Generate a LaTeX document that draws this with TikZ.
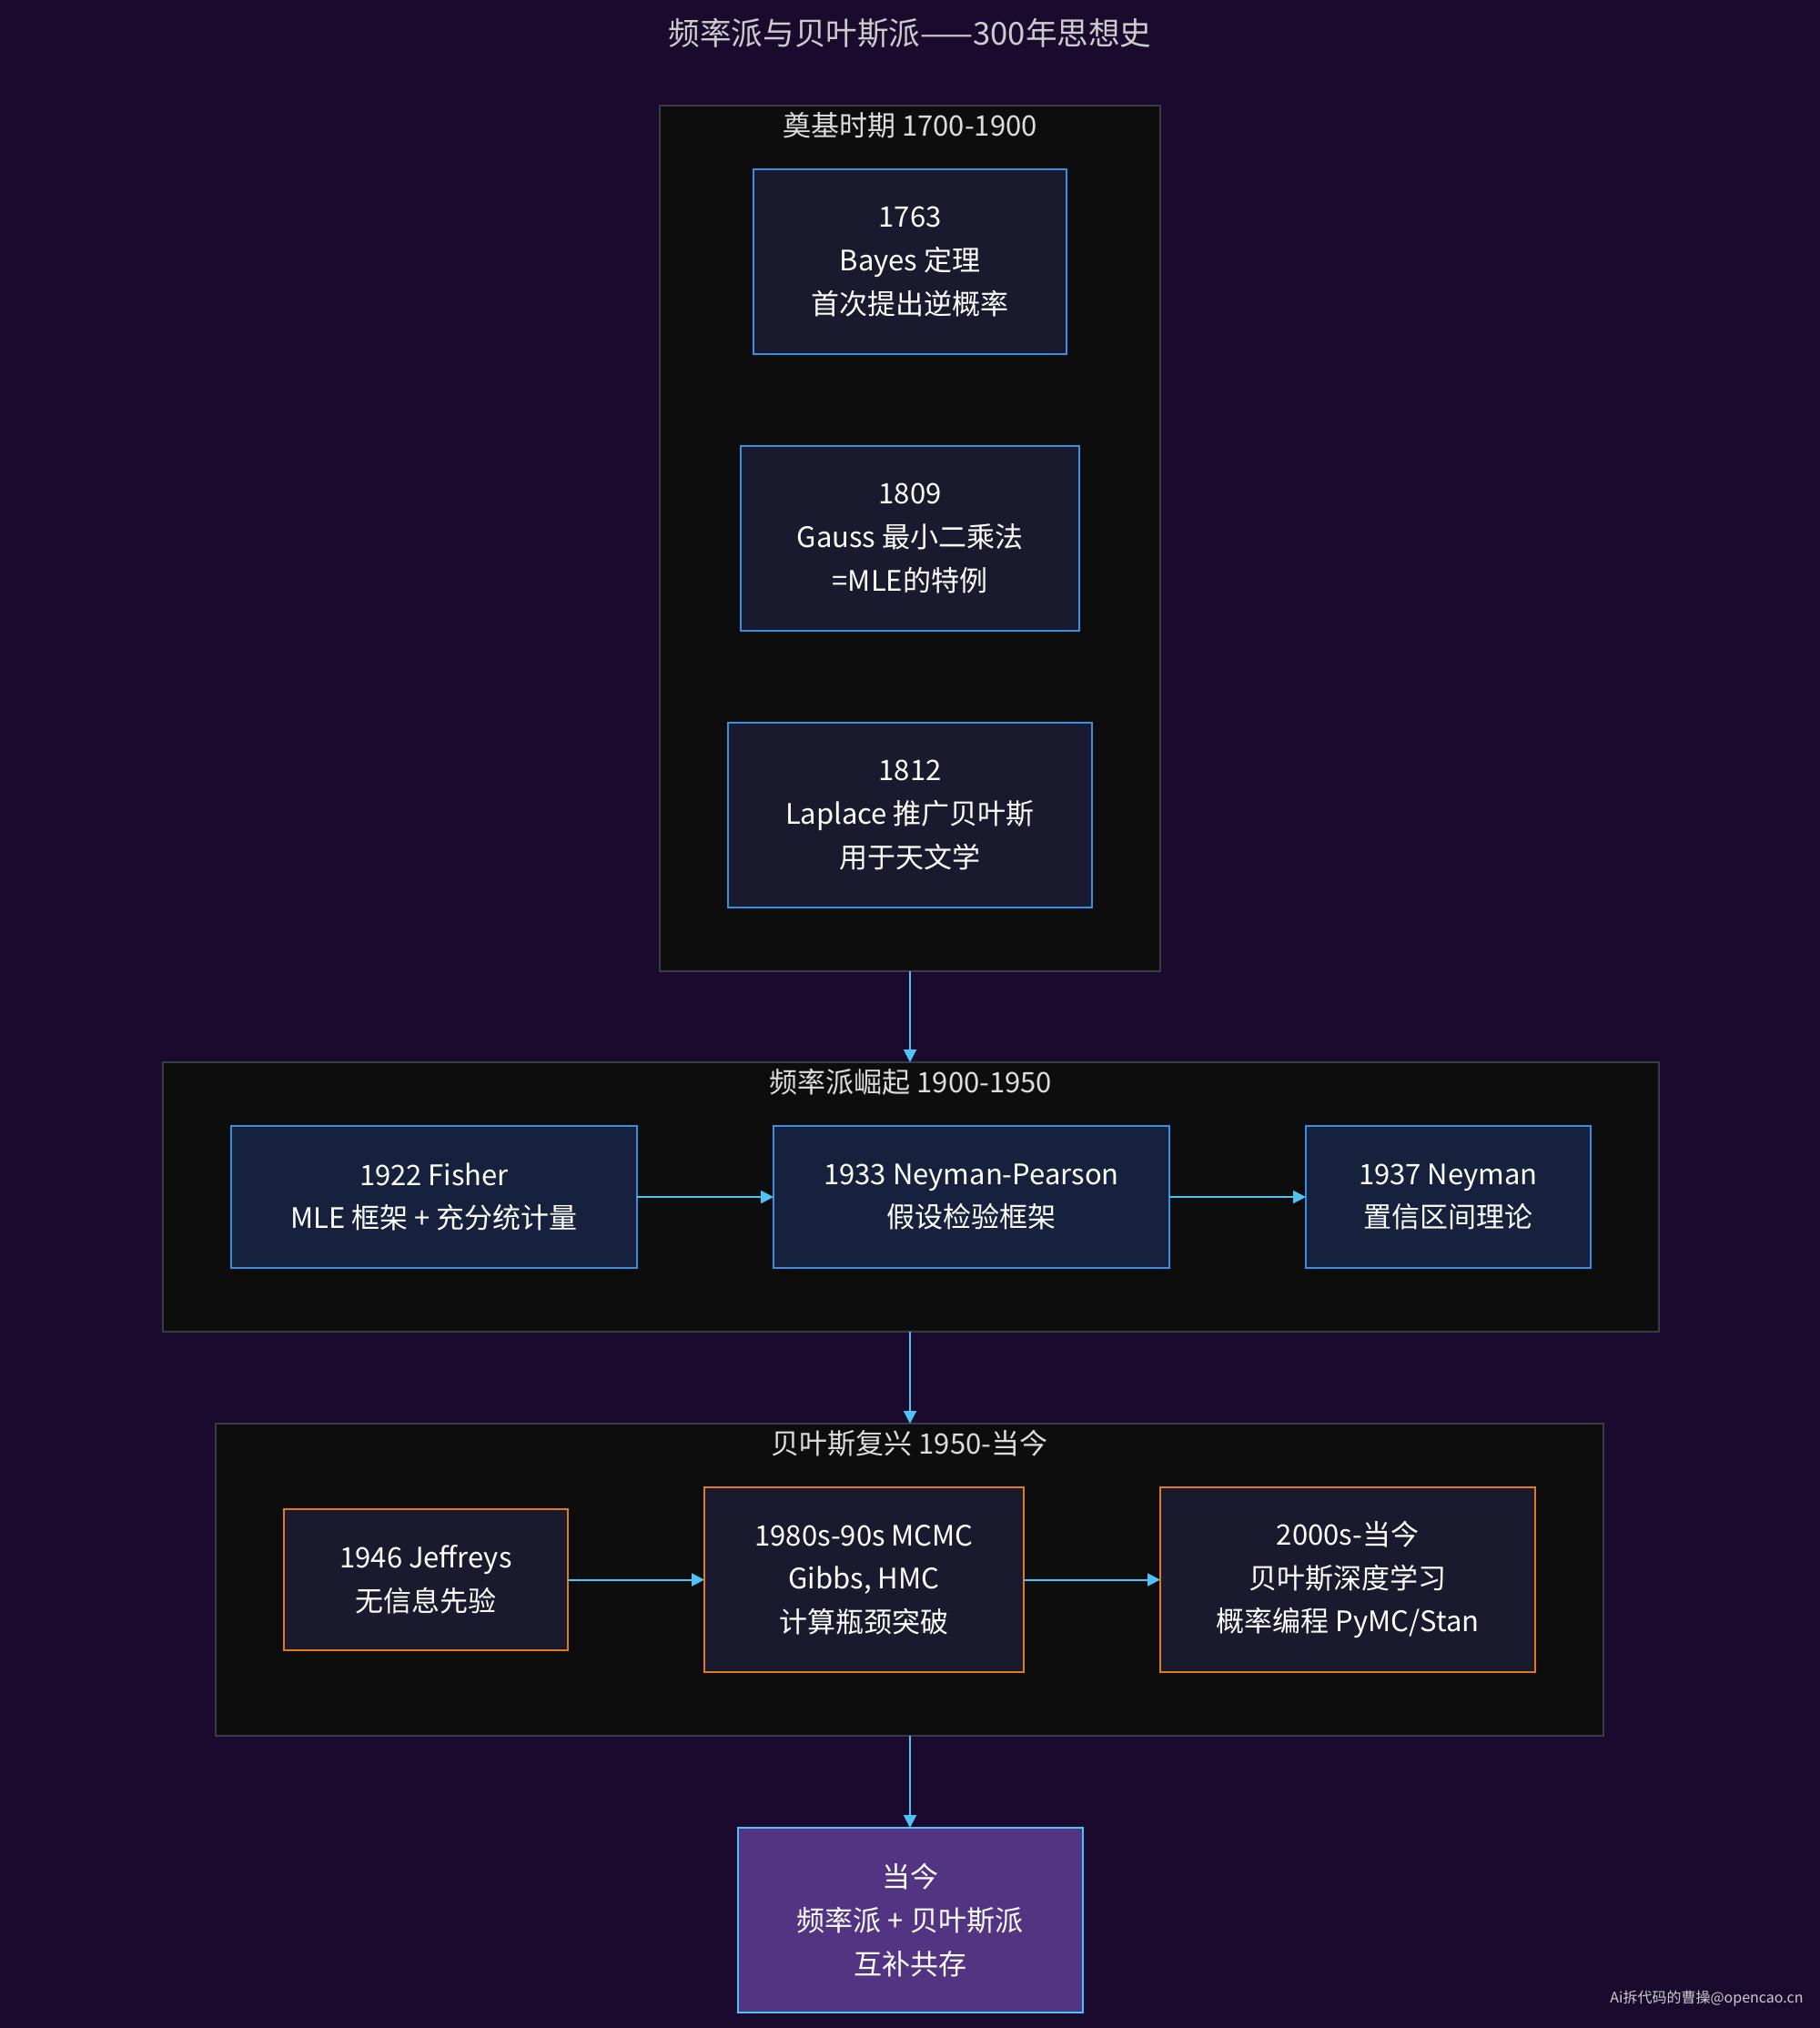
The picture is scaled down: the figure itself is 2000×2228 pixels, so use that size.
\documentclass[tikz,border=0pt]{standalone}
\usepackage{fontspec}
\setmainfont{Noto Sans CJK SC}
\usepackage{tikz}
\usetikzlibrary{arrows.meta,positioning,fit,backgrounds,calc}
\definecolor{pagebg}{HTML}{1A0B2E}
\definecolor{erafill}{HTML}{0D0D0D}
\definecolor{eraline}{HTML}{3A3A48}
\definecolor{navyfill}{HTML}{1A1A2E}
\definecolor{freqfill}{HTML}{16213E}
\definecolor{eventblue}{HTML}{3A8EE6}
\definecolor{eventorange}{HTML}{E07B24}
\definecolor{todayfill}{HTML}{533483}
\definecolor{flowcyan}{HTML}{4FC3F7}
\definecolor{labelgrey}{HTML}{DDDDDD}
\definecolor{titlegrey}{HTML}{CCCCCC}
\newcommand{\eventfont}{\fontsize{15.5pt}{23.8pt}\selectfont}
\newcommand{\chartheadfont}{\fontsize{17.3pt}{20pt}\selectfont}
\newcommand{\markfont}{\fontsize{8pt}{10pt}\selectfont}

\begin{document}
\begin{tikzpicture}[
  x=0.5pt, y=-0.5pt,
  node distance=50.5pt and 75pt,
  block/.style={draw, line width=1pt, outer sep=0pt, minimum height=101.5pt, align=center, font=\eventfont, text=white, inner sep=0pt},
  early/.style={block, fill=navyfill, draw=eventblue},
  freq/.style={block, fill=freqfill, draw=eventblue, minimum height=78pt},
  bayes/.style={block, fill=navyfill, draw=eventorange},
  today/.style={block, fill=todayfill, draw=flowcyan},
  era/.style={draw=eraline, line width=0.6pt, outer sep=0pt, fill=erafill, inner xsep=37.5pt, inner ysep=35pt},
  eralabel/.style={font=\eventfont, text=labelgrey, inner sep=0pt},
  flow/.style={-{Triangle[length=7pt,width=7pt]}, line width=1pt, draw=flowcyan, fill=flowcyan},
]
\useasboundingbox (0,0) rectangle (2000,2228);

% Title
\node[font=\chartheadfont, text=titlegrey] (title) at (1000,36) {频率派与贝叶斯派——300年思想史};

% Foundation period
\node[early, minimum width=172pt] (bayes1763) at (1000,287.5) {1763\\Bayes 定理\\首次提出逆概率};
\node[early, minimum width=186pt, below=of bayes1763] (gauss1809) {1809\\Gauss 最小二乘法\\=MLE的特例};
\node[early, minimum width=200pt, below=of gauss1809] (laplace1812) {1812\\Laplace 推广贝叶斯\\用于天文学};

% Frequentist rise
\node[freq, minimum width=223pt] (fisher1922) at (477,1315) {1922 Fisher\\MLE 框架 + 充分统计量};
\node[freq, minimum width=217.5pt, right=of fisher1922] (np1933) {1933 Neyman-Pearson\\假设检验框架};
\node[freq, minimum width=156.5pt, right=of np1933] (neyman1937) {1937 Neyman\\置信区间理论};

% Bayesian revival
\node[bayes, minimum width=156pt, minimum height=77.5pt] (jeffreys1946) at (468,1735.5) {1946 Jeffreys\\无信息先验};
\node[bayes, minimum width=175.5pt, right=of jeffreys1946] (mcmc) {1980s-90s MCMC\\Gibbs, HMC\\计算瓶颈突破};
\node[bayes, minimum width=206pt, right=of mcmc] (deep2000) {2000s-当今\\贝叶斯深度学习\\概率编程 PyMC/Stan};

% Era frames
\begin{scope}[on background layer]
  \fill[pagebg] (0,0) rectangle (2000,2228);
  \node[era, fit=(bayes1763)(gauss1809)(laplace1812)] (era1) {};
  \node[era, fit=(fisher1922)(np1933)(neyman1937)] (era2) {};
  \node[era, fit=(jeffreys1946)(mcmc)(deep2000)] (era3) {};
\end{scope}
\node[eralabel] at ($(era1.north)+(0,22)$) {奠基时期 1700-1900};
\node[eralabel] at ($(era2.north)+(0,22)$) {频率派崛起 1900-1950};
\node[eralabel] at ($(era3.north)+(0,22)$) {贝叶斯复兴 1950-当今};

% Today
\node[today, minimum width=189.5pt] (now) at ($(era1.south |- era3.south)+(0,202.5)$) {当今\\频率派 + 贝叶斯派\\互补共存};

% Flow
\draw[flow] (fisher1922) -- (np1933);
\draw[flow] (np1933) -- (neyman1937);
\draw[flow] (jeffreys1946) -- (mcmc);
\draw[flow] (mcmc) -- (deep2000);
\draw[flow] (era1.south) -- (era1.south |- era2.north);
\draw[flow] (era1.south |- era2.south) -- (era1.south |- era3.north);
\draw[flow] (era1.south |- era3.south) -- (now.north);

% Watermark
\node[anchor=base east, font=\markfont, text=titlegrey, inner sep=0pt] (mark) at (1982,2200) {Ai拆代码的曹操@opencao.cn};
\end{tikzpicture}
\end{document}
